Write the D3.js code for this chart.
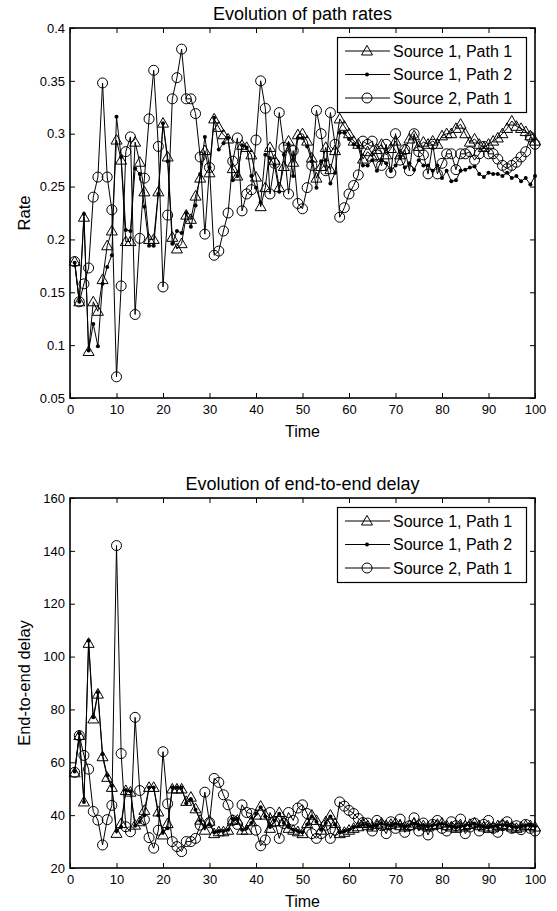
<!DOCTYPE html>
<html><head><meta charset="utf-8">
<script src="https://cdn.jsdelivr.net/npm/d3@7"></script>
<style>
body{margin:0;background:#fff}
svg{display:block;font-family:"Liberation Sans",Arial,Helvetica,sans-serif}
</style>
</head><body>
<svg id="c" width="557" height="911"></svg>
<script>
// ---------- data ----------
const timeSteps = d3.range(1, 101);
const xTicks = [0,10,20,30,40,50,60,70,80,90,100];
const seriesNames = ["Source 1, Path 1", "Source 1, Path 2", "Source 2, Path 1"];

const rateTicks = [0.05,0.1,0.15,0.2,0.25,0.3,0.35,0.4];
const rateTickLabels = ["0.05","0.1","0.15","0.2","0.25","0.3","0.35","0.4"];
const delayTicks = [20,40,60,80,100,120,140,160];
const delayTickLabels = ["20","40","60","80","100","120","140","160"];

const rateS1P1 = [0.179,0.141,0.221,0.094,0.141,0.132,0.162,0.194,0.208,0.294,
0.275,0.198,0.198,0.292,0.273,0.245,0.200,0.200,0.245,0.310,
0.278,0.202,0.191,0.196,0.223,0.219,0.241,0.258,0.284,0.263,
0.314,0.306,0.299,0.295,0.267,0.260,0.289,0.287,0.280,0.259,
0.231,0.249,0.287,0.275,0.249,0.269,0.293,0.273,0.299,0.300,
0.293,0.277,0.258,0.269,0.287,0.266,0.284,0.314,0.307,0.300,
0.293,0.290,0.276,0.283,0.278,0.285,0.290,0.280,0.286,0.293,
0.280,0.285,0.295,0.298,0.288,0.292,0.290,0.293,0.290,0.298,
0.300,0.300,0.305,0.309,0.300,0.292,0.295,0.290,0.287,0.290,
0.293,0.296,0.300,0.305,0.312,0.307,0.305,0.302,0.298,0.293];

const rateS1P2 = [0.178,0.141,0.224,0.095,0.120,0.099,0.158,0.174,0.185,0.316,
0.278,0.209,0.208,0.267,0.262,0.231,0.194,0.194,0.243,0.310,
0.274,0.196,0.208,0.206,0.225,0.212,0.232,0.262,0.297,0.268,
0.315,0.285,0.291,0.296,0.256,0.260,0.289,0.287,0.260,0.249,
0.235,0.280,0.277,0.270,0.245,0.280,0.290,0.260,0.296,0.296,
0.288,0.274,0.249,0.274,0.275,0.253,0.263,0.301,0.301,0.295,
0.290,0.288,0.270,0.270,0.275,0.265,0.275,0.272,0.265,0.270,
0.278,0.268,0.272,0.266,0.275,0.270,0.270,0.265,0.270,0.258,
0.265,0.255,0.256,0.265,0.266,0.268,0.269,0.262,0.259,0.263,
0.262,0.262,0.260,0.263,0.258,0.260,0.255,0.258,0.252,0.260];

const rateS2P1 = [0.179,0.141,0.158,0.173,0.240,0.259,0.348,0.259,0.228,0.070,
0.156,0.283,0.297,0.129,0.201,0.258,0.314,0.360,0.288,0.155,
0.223,0.333,0.353,0.380,0.333,0.333,0.319,0.278,0.205,0.268,
0.185,0.189,0.208,0.225,0.274,0.296,0.227,0.243,0.247,0.294,
0.350,0.324,0.243,0.272,0.320,0.287,0.243,0.284,0.234,0.229,
0.249,0.270,0.322,0.300,0.265,0.320,0.290,0.221,0.230,0.243,
0.251,0.261,0.293,0.290,0.293,0.280,0.270,0.290,0.263,0.300,
0.275,0.285,0.265,0.300,0.283,0.280,0.262,0.290,0.262,0.272,
0.281,0.281,0.266,0.281,0.281,0.283,0.275,0.281,0.288,0.281,
0.281,0.276,0.270,0.267,0.270,0.273,0.278,0.283,0.297,0.290];

const delayS1P1 = [56,70.1,45,105,76.4,85.8,62.1,54.3,50.5,33.1,
36.8,49.3,48.7,36.2,37.5,41.8,50.5,50.5,41.2,32.5,
36.8,49.9,49.9,49.9,45.2,46.8,42.4,38.1,34.3,37.7,
33,33.7,33.7,34.3,38.1,38.1,34.3,34.3,37.5,40,
43.4,40,35,37.5,41,37.5,35,34.3,33.7,33,
36.8,40,38,34.3,37.5,40,36.8,33,33.5,34.3,
35,35.6,36.8,36,35.5,36.5,37,36,36.5,37,
36,35.5,36,37,36.5,36,35.5,36,36.5,37,
36,35.5,35,35.5,36,36.5,37,36,35.5,35,
35.5,36,36.5,36,35.5,35,35.5,36,36,35.5];

const delayS1P2 = [56.5,71,45,106,77,86.5,63,55,51,34,
35.5,49.5,49,36,37.5,40,50.5,50.5,40,33.5,
35,50.5,50.5,50.5,44.5,46,42,38,35.5,36.5,
33.5,34,34,34.5,38.5,38.5,34.5,35,37,40.5,
43,39.5,35.5,38,40.5,37,35.5,34.5,34,33.5,
36.5,39.5,37.5,34.5,37,39.5,36.5,33.5,34,34.5,
35.5,35.8,36.5,36.3,35.8,36.2,36.8,36.3,36.2,36.7,
36.2,35.8,36.2,36.7,36.3,36.2,35.8,36.2,36.3,36.8,
36.2,35.8,35.3,35.8,36.2,36.3,36.8,36.2,35.8,35.3,
35.8,36.2,36.3,36.2,35.8,35.3,35.8,36.2,36.2,35.8];

const delayS2P1 = [56.2,70.1,62.6,57.4,41.4,38.1,28.7,38.3,43.7,142,
63.3,35.6,33.7,77,49.3,38.3,31.5,27.5,34.3,64,
44.3,30,28.1,26.2,30,30,31.2,36.2,48.7,37.2,
53.9,52.4,47.7,43.9,38,36.5,43.9,41,40.6,34.3,
28.4,30.6,41,37.5,31.2,36.8,41,38,42.7,43.9,
40.6,33,31.2,33,36.2,31.2,34.3,45,43.4,41.8,
40.6,38.7,37.2,37,34,38,36,33,37.5,35,
38.5,33.5,36,39,34,37,32.5,36.5,38,35,
34,37.5,36,38.5,33,35.5,37,34,36.5,38,
35,33.5,36,37.5,35,36,34.5,36.5,35,34];

// ---------- layout ----------
const X0 = 70, X1 = 535;
const svg = d3.select("#c");
const x = d3.scaleLinear().domain([0, 100]).range([X0, X1]);
const markerKinds = ["triangle", "dot", "circle"];

function drawMarker(sel, kind) {
  if (kind === "triangle") {
    sel.append("path").attr("d", "M0,-5.6L5.5,4L-5.5,4Z")
      .attr("fill", "none").attr("stroke", "#000").attr("stroke-width", 1);
  } else if (kind === "dot") {
    sel.append("circle").attr("r", 2).attr("fill", "#000");
  } else {
    sel.append("circle").attr("r", 5).attr("fill", "none")
      .attr("stroke", "#000").attr("stroke-width", 1);
  }
}

function drawPanel(cfg) {
  const top = cfg.top, bottom = cfg.bottom;
  const y = d3.scaleLinear().domain(cfg.yDomain).range([bottom, top]);
  const g = svg.append("g");

  // data
  const line = d3.line().x(d => x(d.t)).y(d => y(d.v));
  cfg.series.forEach((vals, si) => {
    const pts = timeSteps.map((t, i) => ({t: t, v: vals[i]}));
    g.append("path").datum(pts).attr("d", line)
      .attr("fill", "none").attr("stroke", "#000").attr("stroke-width", 1);
    const mg = g.append("g");
    pts.forEach(p => {
      const m = mg.append("g").attr("transform", `translate(${x(p.t)},${y(p.v)})`);
      drawMarker(m, markerKinds[si]);
    });
  });

  // axes
  const styleAxis = a => {
    a.attr("font-family", null);
    a.select(".domain").remove();
    a.selectAll("line").attr("stroke", "#000").attr("stroke-width", 1);
    a.selectAll("text").attr("fill", "#000").style("font-size", "13px");
  };
  g.append("g").attr("transform", `translate(0,${bottom})`)
    .call(d3.axisBottom(x).tickValues(xTicks).tickSizeInner(-5).tickSizeOuter(0).tickPadding(7))
    .call(styleAxis);
  g.append("g").attr("transform", `translate(0,${top})`)
    .call(d3.axisTop(x).tickValues(xTicks).tickSizeInner(-5).tickSizeOuter(0).tickFormat(""))
    .call(styleAxis);
  g.append("g").attr("transform", `translate(${X0},0)`)
    .call(d3.axisLeft(y).tickValues(cfg.yTicks).tickSizeInner(-5).tickSizeOuter(0).tickPadding(5)
      .tickFormat((d, i) => cfg.yTickLabels[i]))
    .call(styleAxis);
  g.append("g").attr("transform", `translate(${X1},0)`)
    .call(d3.axisRight(y).tickValues(cfg.yTicks).tickSizeInner(-5).tickSizeOuter(0).tickFormat(""))
    .call(styleAxis);

  g.append("rect").attr("x", X0).attr("y", top)
    .attr("width", X1 - X0).attr("height", bottom - top)
    .attr("fill", "none").attr("stroke", "#000").attr("stroke-width", 1.6);

  // title and labels
  g.append("text").attr("x", (X0 + X1) / 2).attr("y", top - 8)
    .attr("text-anchor", "middle").style("font-size", "18px").text(cfg.title);
  g.append("text").attr("x", (X0 + X1) / 2).attr("y", bottom + 39)
    .attr("text-anchor", "middle").style("font-size", "16px").text("Time");
  g.append("text").attr("transform", `translate(24,${(top + bottom) / 2}) rotate(-90)`)
    .attr("text-anchor", "middle").attr("dy", "0.35em").style("font-size", "16.5px").text(cfg.ylabel);

  // legend
  const lx = 337, ly = top + 9, lw = 189, lh = 75;
  const lg = g.append("g");
  lg.append("rect").attr("x", lx + 0.5).attr("y", ly + 0.5).attr("width", lw).attr("height", lh)
    .attr("fill", "#fff").attr("stroke", "#000").attr("stroke-width", 1.2);
  seriesNames.forEach((name, i) => {
    const ry = ly + 14 + i * 23.5;
    lg.append("line").attr("x1", lx + 8).attr("x2", lx + 53).attr("y1", ry).attr("y2", ry)
      .attr("stroke", "#000").attr("stroke-width", 1);
    const m = lg.append("g").attr("transform", `translate(${lx + 30},${ry})`);
    drawMarker(m, markerKinds[i]);
    lg.append("text").attr("x", lx + 56).attr("y", ry).attr("dy", "0.36em")
      .style("font-size", "16px").text(name);
  });
}

drawPanel({
  top: 28, bottom: 398, yDomain: [0.05, 0.4],
  yTicks: rateTicks, yTickLabels: rateTickLabels,
  title: "Evolution of path rates", ylabel: "Rate",
  series: [rateS1P1, rateS1P2, rateS2P1]
});
drawPanel({
  top: 498, bottom: 868, yDomain: [20, 160],
  yTicks: delayTicks, yTickLabels: delayTickLabels,
  title: "Evolution of end-to-end delay", ylabel: "End-to-end delay",
  series: [delayS1P1, delayS1P2, delayS2P1]
});
</script>
</body></html>
